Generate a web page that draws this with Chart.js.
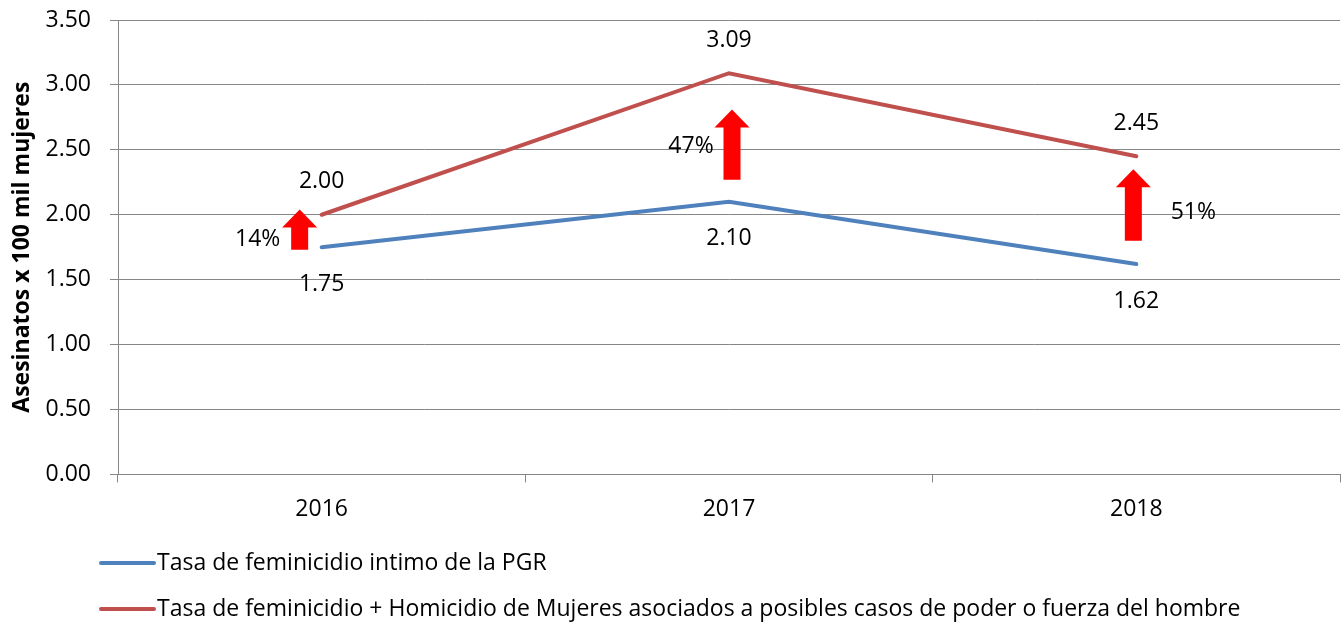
<!DOCTYPE html>
<html>
<head>
<meta charset="utf-8">
<script src="https://cdn.jsdelivr.net/npm/chart.js@4.4.0/dist/chart.umd.min.js"></script>
<style>
  html, body { margin: 0; padding: 0; background: #fff; }
  #wrap { width: 1342px; height: 624px; }
</style>
</head>
<body>
<div id="wrap"><canvas id="chart" width="1342" height="624"></canvas></div>
<script>
// --- datos ---
const years = ['2016', '2017', '2018'];
const tasaPGR = [1.75, 2.10, 1.62];
const tasaTotal = [2.00, 3.09, 2.45];
const serieNames = [
    'Tasa de feminicidio intimo de la PGR',
    'Tasa de feminicidio + Homicidio de Mujeres asociados a posibles casos de poder o fuerza del hombre'
];
// flechas de incremento (valores del eje y) y su porcentaje
const arrowFrom = [1.73, 2.27, 1.80];
const arrowTo = [2.04, 2.81, 2.35];
const arrowText = ['14%', '47%', '51%'];

const FONT = '"Open Sans", sans-serif';
const FS = 23;
const BLUE = '#4f81bd';
const RED = '#c0504d';

// offsets en pixeles para flechas y textos de porcentaje
const arrowDx = [-22, 3, -3];
const pctDx = [-64, -38, 57];
const pctDy = [10, 2, 7];

const annotations = {
    id: 'annotations',
    afterDatasetsDraw(chart) {
        const { ctx, scales: { x, y } } = chart;
        ctx.save();
        ctx.font = FS + 'px ' + FONT;
        ctx.fillStyle = '#000';
        ctx.textAlign = 'center';
        ctx.textBaseline = 'middle';
        years.forEach((yr, i) => {
            const px = x.getPixelForValue(i);
            ctx.fillText(tasaTotal[i].toFixed(2), px, y.getPixelForValue(tasaTotal[i]) - 33);
            ctx.fillText(tasaPGR[i].toFixed(2), px, y.getPixelForValue(tasaPGR[i]) + 37);
        });

        // flechas
        years.forEach((yr, i) => {
            const cx = x.getPixelForValue(i) + arrowDx[i];
            const top = y.getPixelForValue(arrowTo[i]);
            const bottom = y.getPixelForValue(arrowFrom[i]);
            const headH = 18, headW = 17.5, shaftW = 8.5;
            ctx.fillStyle = '#ff0000';
            ctx.beginPath();
            ctx.moveTo(cx, top);
            ctx.lineTo(cx + headW, top + headH);
            ctx.lineTo(cx + shaftW, top + headH);
            ctx.lineTo(cx + shaftW, bottom);
            ctx.lineTo(cx - shaftW, bottom);
            ctx.lineTo(cx - shaftW, top + headH);
            ctx.lineTo(cx - headW, top + headH);
            ctx.closePath();
            ctx.fill();

            const mid = (top + bottom) / 2;
            ctx.fillStyle = '#000';
            ctx.fillText(arrowText[i], x.getPixelForValue(i) + pctDx[i], mid + pctDy[i]);
        });

        // leyenda
        ctx.textAlign = 'left';
        chart.data.datasets.forEach((ds, i) => {
            const ly = 563 + i * 46;
            ctx.strokeStyle = ds.borderColor;
            ctx.lineWidth = 4;
            ctx.lineCap = 'round';
            ctx.beginPath();
            ctx.moveTo(101, ly);
            ctx.lineTo(154, ly);
            ctx.stroke();
            ctx.fillStyle = '#000';
            ctx.fillText(ds.label, 157, ly);
        });
        ctx.restore();
    }
};

new Chart(document.getElementById('chart'), {
    type: 'line',
    data: {
        labels: years,
        datasets: [
            { label: serieNames[0], data: tasaPGR, borderColor: BLUE, backgroundColor: BLUE, borderWidth: 4, pointRadius: 0, tension: 0, borderCapStyle: 'round' },
            { label: serieNames[1], data: tasaTotal, borderColor: RED, backgroundColor: RED, borderWidth: 4, pointRadius: 0, tension: 0, borderCapStyle: 'round' }
        ]
    },
    options: {
        responsive: false,
        animation: false,
        layout: { padding: { top: 20, right: 2, left: 0, bottom: 88 } },
        plugins: {
            tooltip: { enabled: false },
            legend: { display: false }
        },
        scales: {
            x: {
                offset: true,
                grid: { offset: true, drawOnChartArea: false, drawTicks: true, tickLength: 8, color: '#868686' },
                border: { color: '#868686' },
                ticks: { font: { family: FONT, size: FS }, color: '#000', padding: 13 }
            },
            y: {
                min: 0,
                max: 3.5,
                afterFit(scale) {
                    scale.width = 118;
                    scale.paddingTop = 0;
                    scale.paddingBottom = 0;
                },
                grid: { color: '#868686', tickLength: 8 },
                border: { color: '#868686' },
                ticks: {
                    stepSize: 0.5,
                    font: { family: FONT, size: FS },
                    color: '#000',
                    padding: 19,
                    callback: v => v.toFixed(2)
                },
                title: {
                    display: true,
                    text: 'Asesinatos x 100 mil mujeres',
                    font: { family: FONT, size: FS, weight: 'bold' },
                    color: '#000',
                    padding: { top: 9, bottom: 0 }
                }
            }
        }
    },
    plugins: [annotations]
});
</script>
</body>
</html>
